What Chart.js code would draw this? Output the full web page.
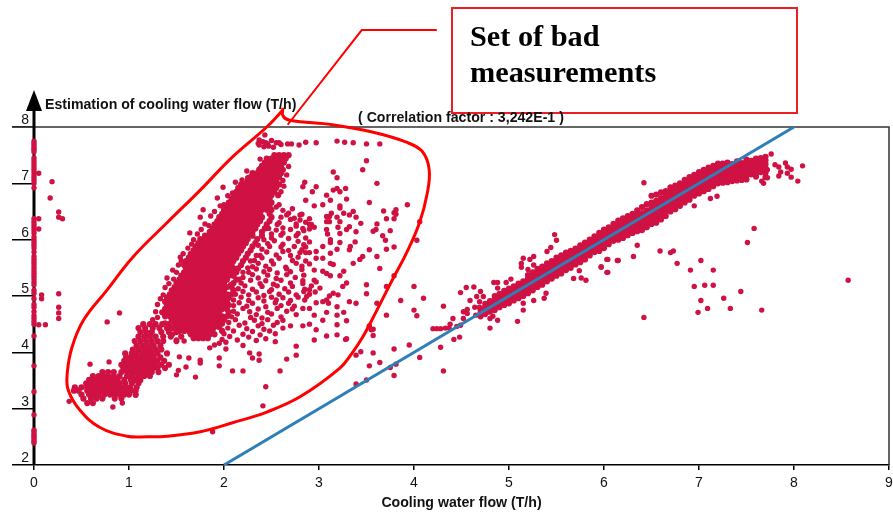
<!DOCTYPE html>
<html>
<head>
<meta charset="utf-8">
<style>body{margin:0;background:#fff}canvas{display:block}</style>
<script src="https://cdn.jsdelivr.net/npm/chart.js@4"></script>
</head>
<body>
<canvas id="myChart" width="893" height="518"></canvas>
<script>
const xTicks = [0, 1, 2, 3, 4, 5, 6, 7, 8, 9];
const yTicks = [2, 3, 4, 5, 6, 7, 8];

// bad measurements stuck at zero flow
const zeroFlowY = [7.75,7.71,7.67,7.63,7.6,7.56,7.45,7.4,7.35,7.3,7.25,7.2,7.15,7.1,7.05,7.0,6.92,6.37,6.32,6.27,6.22,6.17,6.12,6.05,6.0,5.95,5.9,5.85,5.78,5.7,5.65,5.6,5.55,5.5,5.45,5.4,5.35,5.3,5.25,5.2,5.1,5.05,4.95,4.85,4.8,4.72,4.65,4.6,4.55,4.5,4.29,3.76,3.3,2.89,2.62,2.59,2.55,2.52,2.49,2.46,2.42,2.39];

// dense part of the bad set, one row per y
const bodyY = [7.5,7.44,7.37,7.31,7.24,7.18,7.11,7.05,6.98,6.92,6.85,6.79,6.72,6.66,6.59,6.53,6.46,6.4,6.33,6.27,6.2,6.14,6.07,6.01,5.94,5.88,5.81,5.75,5.68,5.62,5.55,5.49,5.42,5.36,5.29,5.23,5.16,5.1,5.03,4.97,4.9,4.84,4.77,4.71,4.64,4.58,4.51,4.45,4.38,4.32,4.25];
const bodyX = [
  [2.53,2.58,2.63,2.68],
  [2.45,2.5,2.55,2.6,2.65],
  [2.43,2.48,2.53,2.58,2.63],
  [2.4,2.45,2.5,2.55,2.6],
  [2.37,2.42,2.47,2.52,2.57,2.62],
  [2.3,2.35,2.4,2.45,2.5,2.55,2.6],
  [2.28,2.33,2.38,2.43,2.48,2.53,2.58],
  [2.25,2.3,2.35,2.4,2.45,2.5,2.55],
  [2.18,2.23,2.28,2.33,2.38,2.43,2.48,2.53,2.58],
  [2.15,2.2,2.25,2.3,2.35,2.4,2.45,2.5,2.55],
  [2.13,2.18,2.23,2.28,2.33,2.38,2.43,2.48,2.53],
  [2.1,2.15,2.2,2.25,2.3,2.35,2.4,2.45,2.5,2.57],
  [2.08,2.13,2.18,2.23,2.28,2.33,2.38,2.43,2.48],
  [2.05,2.1,2.15,2.2,2.25,2.3,2.35,2.4,2.45,2.5],
  [2.03,2.08,2.13,2.18,2.23,2.28,2.33,2.38,2.43,2.48],
  [2.0,2.05,2.1,2.15,2.2,2.25,2.3,2.35,2.4,2.45,2.5],
  [1.98,2.03,2.08,2.13,2.18,2.23,2.28,2.33,2.38,2.48],
  [1.95,2.0,2.05,2.1,2.15,2.2,2.25,2.3,2.35,2.4,2.5],
  [1.93,1.98,2.03,2.08,2.13,2.18,2.23,2.28,2.33,2.38,2.48],
  [1.9,1.95,2.0,2.05,2.1,2.15,2.2,2.25,2.3,2.35,2.45],
  [1.88,1.93,1.98,2.03,2.08,2.13,2.18,2.23,2.28,2.33,2.43],
  [1.85,1.9,1.95,2.0,2.05,2.1,2.15,2.2,2.25,2.3,2.4],
  [1.8,1.85,1.9,1.95,2.0,2.05,2.1,2.15,2.2,2.25,2.3,2.4],
  [1.75,1.8,1.85,1.9,1.95,2.0,2.05,2.1,2.15,2.2,2.25,2.35],
  [1.73,1.78,1.83,1.88,1.93,1.98,2.03,2.08,2.13,2.18,2.23,2.33],
  [1.7,1.75,1.8,1.85,1.9,1.95,2.0,2.05,2.1,2.15,2.2,2.3],
  [1.68,1.73,1.78,1.83,1.88,1.93,1.98,2.03,2.08,2.13,2.18,2.28],
  [1.65,1.7,1.75,1.8,1.85,1.9,1.95,2.0,2.05,2.1,2.15,2.25],
  [1.63,1.68,1.73,1.78,1.83,1.88,1.93,1.98,2.03,2.08,2.13,2.23],
  [1.6,1.65,1.7,1.75,1.8,1.85,1.9,1.95,2.0,2.05,2.1,2.2],
  [1.58,1.63,1.68,1.73,1.78,1.83,1.88,1.93,1.98,2.03,2.08,2.18],
  [1.6,1.65,1.7,1.75,1.8,1.85,1.9,1.95,2.0,2.05,2.1,2.15],
  [1.58,1.63,1.68,1.73,1.78,1.83,1.88,1.93,1.98,2.03,2.08,2.13],
  [1.55,1.6,1.65,1.7,1.75,1.8,1.85,1.9,1.95,2.0,2.05,2.1],
  [1.53,1.58,1.63,1.68,1.73,1.78,1.83,1.88,1.93,1.98,2.03,2.13],
  [1.5,1.55,1.6,1.65,1.7,1.75,1.8,1.85,1.9,1.95,2.0,2.1],
  [1.48,1.53,1.58,1.63,1.68,1.73,1.78,1.83,1.88,1.93,1.98,2.03,2.08],
  [1.45,1.5,1.55,1.6,1.65,1.7,1.75,1.8,1.85,1.9,1.95,2.0,2.1],
  [1.43,1.48,1.53,1.58,1.63,1.68,1.73,1.78,1.83,1.88,1.93,1.98,2.03,2.08],
  [1.4,1.45,1.5,1.55,1.6,1.65,1.7,1.75,1.8,1.85,1.9,1.95,2.0,2.05],
  [1.38,1.43,1.48,1.53,1.58,1.63,1.68,1.73,1.78,1.83,1.88,1.93,1.98,2.03],
  [1.4,1.45,1.5,1.55,1.6,1.65,1.7,1.75,1.8,1.85,1.9,1.95,2.0,2.05],
  [1.38,1.43,1.48,1.53,1.58,1.63,1.68,1.73,1.78,1.83,1.88,1.93,1.98,2.03],
  [1.35,1.4,1.45,1.5,1.55,1.6,1.65,1.7,1.75,1.8,1.85,1.9,1.95,2.05],
  [1.38,1.43,1.48,1.53,1.58,1.63,1.68,1.73,1.78,1.83,1.88,1.93,1.98,2.03],
  [1.45,1.5,1.55,1.6,1.65,1.7,1.75,1.8,1.85,1.9,1.95,2.0],
  [1.48,1.53,1.58,1.63,1.68,1.73,1.78,1.83,1.88,1.93,1.98],
  [1.5,1.55,1.6,1.65,1.7,1.75,1.8,1.85,1.9,1.95],
  [1.53,1.58,1.63,1.68,1.73,1.78,1.83,1.88,1.98],
  [1.65,1.7,1.75,1.8,1.85,1.9],
  [1.68,1.73,1.78,1.83]
];

// lower tail of the bad set
const tailY = [4.5,4.43,4.36,4.28,4.2,4.12,4.05,3.98,3.91,3.85,3.78,3.72,3.65,3.58,3.51,3.45,3.38,3.32,3.25,3.18,3.1];
const tailX = [
  [1.15,1.22,1.28,1.35,1.42],
  [1.1,1.17,1.25,1.32,1.4,1.46],
  [1.12,1.18,1.24,1.34,1.42,1.5],
  [1.1,1.16,1.22,1.28,1.36,1.44,1.55],
  [1.06,1.12,1.18,1.24,1.3,1.36,1.5],
  [1.08,1.14,1.2,1.26,1.33],
  [1.04,1.1,1.16,1.22,1.28,1.34],
  [0.96,1.03,1.08,1.14,1.19,1.24,1.3,1.4],
  [0.97,1.01,1.06,1.11,1.16,1.21,1.26,1.33],
  [0.95,1.0,1.05,1.1,1.15,1.2,1.25,1.3,1.37],
  [0.92,0.98,1.03,1.08,1.13,1.18,1.23,1.28,1.34,1.42],
  [0.94,1.0,1.05,1.1,1.15,1.2,1.25,1.3,1.38],
  [0.72,0.78,0.84,0.92,0.98,1.03,1.08,1.13,1.18,1.24,1.31],
  [0.62,0.68,0.73,0.78,0.84,0.9,0.98,1.04,1.1,1.16,1.22],
  [0.58,0.63,0.68,0.73,0.78,0.83,0.88,0.95,1.02,1.07,1.12],
  [0.55,0.6,0.65,0.7,0.75,0.8,0.85,0.9,0.96,1.03,1.1],
  [0.43,0.5,0.56,0.61,0.66,0.71,0.76,0.81,0.86,0.91,0.96,1.01,1.08],
  [0.42,0.47,0.56,0.62,0.67,0.72,0.77,0.82,0.87,0.92,0.97,1.02,1.07],
  [0.5,0.58,0.63,0.68,0.74,0.8,0.85,0.9,0.95,1.0,1.07],
  [0.52,0.6,0.66,0.72,0.85,0.92],
  [0.56,0.62]
];

// looser points to the right of the dense part, rows of x with their y
const looseX = [
  [2.62,2.68,2.72,2.8],
  [2.6,2.66,2.74,2.82,2.9],
  [2.58,2.7,2.76,2.8,2.86,2.92],
  [2.56,2.62,2.76,2.83,2.9,2.95],
  [2.55,2.62,2.7,2.78,2.84,2.9],
  [2.5,2.6,2.68,2.76,2.86],
  [2.46,2.53,2.62,2.78,2.84,2.9],
  [2.4,2.48,2.6,2.68,2.74,2.82,2.86],
  [2.38,2.45,2.55,2.62,2.7,2.8],
  [2.32,2.4,2.5,2.58,2.72,2.78,2.86],
  [2.3,2.36,2.44,2.52,2.65,2.76,2.82,2.9],
  [2.26,2.34,2.42,2.48,2.56,2.66,2.7,2.82],
  [2.2,2.3,2.36,2.46,2.55,2.66,2.75,2.84],
  [2.18,2.28,2.38,2.44,2.52,2.6,2.7,2.83],
  [2.15,2.22,2.3,2.4,2.5,2.56,2.64,2.72,2.85,2.92],
  [2.12,2.2,2.26,2.34,2.42,2.48,2.58,2.68,2.76,2.84,2.9,2.96],
  [2.1,2.18,2.26,2.36,2.42,2.5,2.55,2.62,2.7,2.78,2.85],
  [2.1,2.16,2.24,2.3,2.44,2.54,2.6,2.68,2.74],
  [2.1,2.2,2.27,2.36,2.46,2.56,2.66,2.72],
  [2.08,2.14,2.28,2.34,2.4,2.5,2.6,2.76],
  [2.05,2.12,2.22,2.32,2.4,2.46,2.56,2.62],
  [2.04,2.16,2.24,2.36,2.42,2.52,2.62,2.7],
  [2.0,2.1,2.2,2.3,2.38,2.48],
  [1.98,2.06,2.14,2.26,2.34],
  [1.9,2.02,2.2]
];
const looseY = [
  [6.52,6.47,6.55,6.44],
  [6.4,6.44,6.38,6.45,6.37],
  [6.3,6.36,6.28,6.35,6.31,6.27],
  [6.27,6.21,6.24,6.2,6.27,6.22],
  [6.17,6.12,6.18,6.11,6.16,6.19],
  [6.03,6.08,6.02,6.07,6.03],
  [5.93,5.98,5.92,5.97,5.91,5.96],
  [5.83,5.88,5.87,5.81,5.88,5.82,5.87],
  [5.72,5.78,5.73,5.79,5.72,5.77],
  [5.63,5.68,5.62,5.67,5.63,5.69,5.62],
  [5.52,5.58,5.53,5.57,5.51,5.58,5.53,5.57],
  [5.42,5.48,5.43,5.47,5.41,5.48,5.43,5.47],
  [5.33,5.38,5.32,5.37,5.31,5.38,5.33,5.37],
  [5.23,5.28,5.22,5.27,5.21,5.28,5.23,5.27],
  [5.13,5.18,5.12,5.17,5.11,5.18,5.13,5.17,5.12,5.18],
  [5.03,5.08,5.02,5.07,5.01,5.08,5.03,5.07,5.02,5.08,5.03,5.07],
  [4.93,4.98,4.92,4.97,4.91,4.98,4.93,4.97,4.92,4.98,4.93],
  [4.83,4.88,4.82,4.87,4.81,4.88,4.83,4.87,4.82],
  [4.73,4.78,4.72,4.77,4.71,4.78,4.73,4.77],
  [4.63,4.68,4.62,4.67,4.61,4.68,4.63,4.67],
  [4.53,4.58,4.52,4.57,4.51,4.58,4.53,4.57],
  [4.43,4.48,4.42,4.47,4.41,4.48,4.43,4.47],
  [4.33,4.38,4.32,4.37,4.31,4.38],
  [4.23,4.28,4.22,4.27,4.21],
  [4.13,4.18,4.12]
];

// points along the rough edges of the dense part
const edgeX = [2.24,2.2,2.12,2.09,2.04,2.0,1.96,1.9,1.86,1.84,1.8,1.76,1.72,1.68,1.66,1.62,1.57,1.55,1.52,1.5,1.47,1.42,1.38,1.36,1.33,1.3,1.28,1.3,1.25,1.38,1.42,1.46,1.5,1.58,2.68,2.66,2.62,2.63,2.6,2.58,2.55,2.47,2.5,2.42,2.36,2.34,2.28,2.25,2.2,2.16,2.07];
const edgeY = [7.22,7.0,7.02,6.83,6.78,6.62,6.6,6.5,6.42,6.25,6.28,6.18,6.1,6.0,5.92,5.85,5.75,5.62,5.55,5.42,5.3,5.22,5.15,5.02,4.95,4.85,4.72,4.62,4.58,4.52,4.4,4.32,4.22,4.2,7.3,7.15,7.05,6.95,6.85,6.62,6.58,6.2,6.1,6.0,5.9,5.72,5.62,5.5,5.42,5.3,5.2];

// single scattered points of the bad set
const scatterX = [0.05,0.19,0.17,0.26,0.26,0.3,0.05,0.05,0.08,0.08,0.26,0.26,0.26,0.26,0.05,0.12,0.77,0.9,0.59,0.79,0.37,0.83,0.93,1.07,1.88,2.44,2.41,1.7,2.09,2.2,2.59,1.95,1.95,1.75,1.75,1.63,1.53,1.6,1.5,1.52,2.27,2.37,2.37,2.3,2.66,2.76,2.76,2.54,2.54,2.44,2.02,1.95,1.85,1.99,1.78,1.93,1.75,1.64,1.54,1.46,1.4,2.25,2.19,2.38,2.38,2.43,2.37,2.41,2.46,2.5,2.55,2.6,2.37,2.42,2.47,2.52,2.58,2.36,2.44,2.67,2.71,2.79,2.86,2.97,3.19,3.27,3.36,3.5,3.64,3.5,3.46,3.15,3.19,3.61,2.85,2.97,2.93,2.83,3.15,3.19,3.22,3.28,3.29,3.08,3.12,3.04,2.95,2.86,3.22,3.22,3.53,3.93,3.68,3.81,3.79,3.81,3.71,3.79,3.61,3.6,3.57,3.75,3.67,3.7,3.71,3.79,3.53,3.61,3.64,3.79,3.5,3.71,3.5,4.0,4.1,3.86,3.61,4.0,4.03,3.71,4.03,4.06,3.08,3.08,3.11,3.11,3.13,3.19,3.22,3.2,3.26,3.32,3.36,3.39,3.44,3.32,3.29,3.39,3.08,3.09,3.22,3.12,3.12,3.22,3.38,3.33,3.32,3.19,3.12,3.04,2.97,2.9,2.86,3.04,2.97,3.12,3.15,3.46,3.43,3.36,3.26,3.22,3.04,3.08,3.12,2.95,2.95,2.97,3.29,3.25,3.01,3.2,3.15,3.11,3.08,3.04,3.1,3.32,3.39,2.97,2.9,2.87,2.83,2.83,2.9,2.95,3.04,3.08,3.19,3.19,3.26,3.19,3.29,2.9,2.83,2.97,3.08,3.19,3.29,2.95,3.53,3.55];
const scatterY = [7.18,7.03,6.74,6.49,6.4,6.37,6.37,6.19,5.02,4.95,5.04,4.8,4.7,4.6,4.49,4.49,4.54,4.7,3.79,3.83,3.13,3.03,3.1,3.24,2.59,3.39,3.05,3.56,3.67,3.67,3.67,3.9,3.76,3.86,3.81,3.9,3.92,3.74,3.6,3.68,3.99,3.97,3.86,3.9,3.88,3.95,4.11,4.33,4.19,4.24,4.06,4.16,4.08,6.93,6.53,6.74,6.4,6.12,5.69,5.46,5.32,7.1,7.06,7.43,7.27,7.86,7.77,7.74,7.7,7.76,7.72,7.69,7.68,7.65,7.66,7.64,7.72,7.71,7.72,7.7,7.7,7.68,7.73,7.72,7.75,7.73,7.72,7.7,7.7,7.4,7.24,7.2,7.1,7.0,7.02,6.94,6.85,6.94,6.88,6.91,6.85,6.91,6.72,6.79,6.7,6.62,6.6,6.7,6.6,6.56,6.66,6.62,6.51,6.53,6.48,6.45,6.37,6.37,6.28,6.18,6.15,6.16,6.07,5.99,5.83,5.87,5.82,5.7,5.49,5.36,5.2,5.17,5.04,5.17,4.96,4.92,4.87,4.75,4.65,4.66,5.99,6.32,6.41,6.32,6.41,6.32,6.47,6.4,6.32,6.22,6.47,6.44,6.5,6.4,6.29,6.23,6.18,6.14,6.18,6.1,6.11,6.0,5.95,5.95,5.96,5.88,5.82,5.83,5.76,5.88,5.79,5.77,5.77,5.67,5.67,5.58,5.56,5.7,5.65,5.58,5.44,5.36,5.44,5.4,5.36,5.46,5.28,5.25,5.23,5.17,5.14,5.02,5.05,5.0,4.93,4.9,4.87,4.9,4.87,4.88,5.11,4.99,5.22,4.78,4.78,4.66,4.57,4.71,4.81,4.66,4.71,4.49,4.56,4.5,4.47,4.4,4.29,4.31,4.24,4.22,4.46,4.4];

// good measurements following the regression line, one column per x
const bandX = [4.7,4.75,4.8,4.85,4.9,4.95,5.0,5.05,5.1,5.15,5.2,5.25,5.3,5.35,5.4,5.45,5.5,5.55,5.6,5.65,5.7,5.75,5.8,5.85,5.9,5.95,6.0,6.05,6.1,6.15,6.2,6.25,6.3,6.35,6.4,6.45,6.5,6.55,6.6,6.65,6.7,6.75,6.8,6.85,6.9,6.95,7.0,7.05,7.1,7.15,7.2,7.25,7.3,7.35,7.4,7.45,7.5,7.55,7.6,7.65,7.7];
const bandY = [
  [4.64,4.7,4.77],
  [4.68,4.74,4.8,4.86],
  [4.72,4.78,4.84,4.91],
  [4.75,4.82,4.88,4.94,5.0],
  [4.8,4.86,4.92,4.98,5.04],
  [4.84,4.9,4.96,5.03,5.09],
  [4.87,4.93,5.0,5.06,5.13],
  [4.92,4.98,5.04,5.1,5.17],
  [4.96,5.02,5.08,5.15,5.22],
  [5.0,5.06,5.13,5.19,5.26],
  [5.05,5.11,5.18,5.24,5.31,5.37],
  [5.1,5.16,5.23,5.29,5.36,5.42],
  [5.16,5.22,5.28,5.35,5.41,5.48],
  [5.2,5.26,5.33,5.39,5.46,5.52],
  [5.26,5.32,5.39,5.45,5.51,5.58],
  [5.31,5.37,5.43,5.5,5.56,5.62],
  [5.36,5.42,5.48,5.55,5.61,5.68],
  [5.4,5.46,5.53,5.59,5.66,5.72],
  [5.46,5.52,5.58,5.64,5.7,5.77],
  [5.5,5.56,5.62,5.69,5.75,5.8],
  [5.56,5.62,5.68,5.74,5.8,5.84],
  [5.6,5.66,5.72,5.78,5.84,5.9],
  [5.65,5.72,5.78,5.84,5.9,5.95],
  [5.72,5.78,5.84,5.9,5.96,6.0],
  [5.78,5.84,5.9,5.96,6.02,6.06],
  [5.8,5.87,5.93,5.99,6.05,6.12],
  [5.85,5.92,5.98,6.04,6.1,6.18],
  [5.92,5.98,6.04,6.1,6.16,6.22],
  [5.98,6.04,6.1,6.16,6.22,6.28],
  [6.0,6.07,6.13,6.19,6.25,6.34],
  [6.03,6.1,6.17,6.23,6.3,6.38],
  [6.08,6.15,6.21,6.28,6.34,6.42],
  [6.12,6.19,6.26,6.33,6.39,6.46],
  [6.15,6.22,6.29,6.36,6.43,6.52],
  [6.17,6.25,6.33,6.4,6.47,6.58],
  [6.22,6.29,6.37,6.44,6.52,6.63],
  [6.28,6.35,6.42,6.49,6.57,6.66,6.78],
  [6.3,6.38,6.45,6.53,6.6,6.69,6.8],
  [6.36,6.44,6.52,6.59,6.66,6.74,6.84],
  [6.42,6.5,6.57,6.64,6.71,6.79,6.86],
  [6.5,6.57,6.64,6.71,6.78,6.86,6.93],
  [6.54,6.61,6.68,6.75,6.82,6.89,6.96],
  [6.6,6.67,6.74,6.81,6.88,6.94,7.0],
  [6.66,6.73,6.8,6.87,6.93,7.0,7.06],
  [6.71,6.78,6.85,6.92,6.98,7.05,7.11],
  [6.78,6.84,6.9,6.96,7.02,7.08,7.15],
  [6.82,6.89,6.95,7.01,7.07,7.13,7.2],
  [6.86,6.93,7.0,7.06,7.12,7.18,7.24],
  [6.9,6.97,7.04,7.1,7.16,7.22,7.28],
  [6.95,7.01,7.07,7.13,7.19,7.25,7.31],
  [7.0,7.06,7.12,7.18,7.24,7.3,7.35],
  [7.01,7.07,7.13,7.19,7.25,7.31,7.35],
  [7.02,7.08,7.14,7.2,7.26,7.32,7.37],
  [7.04,7.1,7.16,7.22,7.28,7.34],
  [7.05,7.11,7.17,7.23,7.29,7.35,7.39],
  [7.06,7.12,7.18,7.24,7.3,7.36],
  [7.07,7.14,7.2,7.26,7.32,7.38,7.42],
  [7.16,7.22,7.28,7.34,7.4],
  [7.12,7.19,7.25,7.31,7.37,7.44],
  [7.2,7.26,7.32,7.38,7.45],
  [7.11,7.19,7.27,7.34,7.41,7.47]
];

// points around the band and the low flow end of it
const offBandX = [4.2,4.24,4.28,4.33,4.37,4.38,4.41,4.31,4.45,4.49,4.52,4.56,4.52,4.56,4.59,4.49,4.55,4.63,4.7,4.66,4.73,4.64,4.69,4.69,4.65,4.8,4.8,4.88,4.83,5.09,5.15,5.15,5.26,5.37,5.39,5.48,5.5,5.44,5.4,5.15,5.22,5.26,5.13,5.13,5.26,5.2,4.84,4.88,5.02,4.97,4.88,6.04,5.97,6.04,6.14,5.81,5.76,5.68,5.74,3.53,3.57,3.57,3.28,3.79,3.95,3.44,3.39,3.57,3.64,3.53,3.75,3.81,4.06,4.28,4.42,4.48,3.79,4.31,3.39,3.5,7.76,7.8,7.84,7.86,7.84,7.91,7.93,7.97,7.93,7.97,8.04,8.09,7.72,7.72,7.66,7.68,7.58,7.51,6.59,6.73,6.7,6.77,7.02,6.91,7.15,6.95,7.06,7.15,7.44,7.26,7.02,7.33,7.09,6.99,7.66,8.57,6.42,6.35,6.31,6.15,6.03,5.97,6.03,6.42,7.12,7.19,6.95];
const offBandY = [4.42,4.42,4.42,4.43,4.43,4.5,4.6,4.82,4.46,4.48,4.6,4.69,4.72,4.76,4.92,5.06,5.15,5.16,5.08,4.99,4.99,4.8,4.8,4.9,4.66,4.43,4.6,4.57,4.64,4.55,4.75,4.87,4.92,4.96,5.05,6.09,5.99,5.86,5.79,5.67,5.65,5.7,5.58,5.51,5.55,5.47,5.24,5.24,5.3,5.24,5.14,5.65,5.51,5.42,5.63,5.28,5.32,5.31,5.45,4.47,4.41,4.3,4.23,4.06,4.13,4.01,3.95,3.99,3.82,3.76,3.73,3.79,3.91,4.09,4.23,4.27,3.59,3.67,3.44,3.51,7.52,7.33,7.29,7.2,7.13,7.36,7.29,7.25,7.18,7.11,7.04,7.31,7.24,7.1,7.04,7.0,6.2,5.95,5.8,5.8,5.77,5.58,5.63,5.46,5.46,5.17,5.19,5.19,5.08,4.96,4.92,4.78,4.78,4.71,4.75,5.28,4.62,5.9,5.7,5.63,5.65,5.52,5.42,7.01,6.73,6.77,6.6];

// regression line
const fitX = [2, 8];
const fitY = [2, 8];

// hand drawn outline around the bad set
const outlineX = [2.62,2.62,2.69,3.14,3.56,3.92,4.09,4.16,4.14,4.06,3.92,3.77,3.61,3.46,3.35,3.22,2.8,2.45,2.09,1.75,1.4,1.19,0.98,0.69,0.48,0.36,0.35,0.4,0.52,0.77,1.04,1.4,1.75,2.09,2.45,2.62];
const outlineY = [8.34,8.2,8.12,8.04,7.91,7.73,7.56,7.24,6.83,6.31,5.76,5.28,4.75,4.27,3.99,3.72,3.21,2.94,2.75,2.59,2.51,2.5,2.51,2.67,2.98,3.33,3.63,4.09,4.57,5.11,5.69,6.3,6.88,7.47,8.0,8.3];

// leader from the outline to the text box
const leaderX = [2.67, 3.45, 4.24];
const leaderY = [8.04, 9.72, 9.72];

function rowsByY(ys, xs) {
  var out = [];
  ys.forEach(function (y, i) {
    xs[i].forEach(function (x) { out.push({ x: x, y: y }); });
  });
  return out;
}

function rowsByX(xs, ys) {
  var out = [];
  xs.forEach(function (x, i) {
    ys[i].forEach(function (y) { out.push({ x: x, y: y }); });
  });
  return out;
}

function zip(xs, ys) {
  return xs.map(function (x, i) { return { x: x, y: ys[i] }; });
}

function zipRows(xs, ys) {
  var out = [];
  xs.forEach(function (row, i) { out = out.concat(zip(row, ys[i])); });
  return out;
}

const densePoints = []
  .concat(rowsByY(bodyY, bodyX))
  .concat(rowsByY(tailY, tailX))
  .concat(rowsByX(bandX, bandY));

const loosePoints = []
  .concat(zeroFlowY.map(function (y) { return { x: 0, y: y }; }))
  .concat(zipRows(looseX, looseY))
  .concat(zip(edgeX, edgeY))
  .concat(zip(scatterX, scatterY))
  .concat(zip(offBandX, offBandY));

const frameAndLabels = {
  id: "frameAndLabels",
  beforeDatasetsDraw: function (chart) {
    var ctx = chart.ctx;
    var a = chart.chartArea;
    ctx.save();
    // top and right frame
    ctx.strokeStyle = "#333";
    ctx.lineWidth = 1.5;
    ctx.beginPath();
    ctx.moveTo(12, a.top);
    ctx.lineTo(a.right, a.top);
    ctx.lineTo(a.right, a.bottom);
    ctx.stroke();
    // y axis with arrow head
    ctx.strokeStyle = "#000";
    ctx.lineWidth = 3;
    ctx.beginPath();
    ctx.moveTo(a.left, a.bottom);
    ctx.lineTo(a.left, 108);
    ctx.stroke();
    ctx.fillStyle = "#000";
    ctx.beginPath();
    ctx.moveTo(a.left, 90);
    ctx.lineTo(a.left + 8, 111);
    ctx.lineTo(a.left - 8, 111);
    ctx.closePath();
    ctx.fill();
    ctx.font = "bold 14.15px 'Liberation Sans'";
    ctx.textBaseline = "alphabetic";
    ctx.fillStyle = "#111";
    ctx.fillText("Estimation of cooling water flow (T/h)", 45, 109);
    ctx.restore();
  },
  afterDraw: function (chart) {
    var ctx = chart.ctx;
    ctx.save();
    ctx.strokeStyle = "#ee1c25";
    ctx.lineWidth = 2;
    ctx.strokeRect(452, 8, 345, 105);
    ctx.fillStyle = "#111";
    ctx.font = "bold 14.15px 'Liberation Sans'";
    ctx.fillText("( Correlation factor : 3,242E-1 )", 358, 122);
    ctx.fillStyle = "#000";
    ctx.font = "bold 30.3px 'Liberation Serif'";
    ctx.fillText("Set of bad", 470, 46);
    ctx.fillText("measurements", 470, 82);
    ctx.restore();
  },
};

var ctx = document.getElementById("myChart").getContext("2d");
var myChart = new Chart(ctx, {
  type: "scatter",
  data: {
    datasets: [
      {
        label: "Measurements, dense",
        data: densePoints,
        backgroundColor: "#cf1243",
        borderWidth: 0,
        pointRadius: 3.1,
        clip: false,
        order: 4,
      },
      {
        label: "Measurements, scattered",
        data: loosePoints,
        backgroundColor: "#cf1243",
        borderWidth: 0,
        pointRadius: 2.7,
        clip: false,
        order: 3,
      },
      {
        label: "Regression",
        data: zip(fitX, fitY),
        showLine: true,
        borderColor: "#2e7fb8",
        borderWidth: 3,
        pointRadius: 0,
        order: 2,
      },
      {
        label: "Outline",
        data: zip(outlineX, outlineY),
        showLine: true,
        borderColor: "#ff0000",
        borderWidth: 3,
        pointRadius: 0,
        tension: 0.4,
        clip: false,
        order: 1,
      },
      {
        label: "Leader",
        data: zip(leaderX, leaderY),
        showLine: true,
        borderColor: "#ff0000",
        borderWidth: 2,
        pointRadius: 0,
        clip: false,
        order: 0,
      },
    ],
  },
  options: {
    responsive: false,
    animation: false,
    layout: { padding: { top: 127, right: 3, left: 0, bottom: 0 } },
    plugins: {
      legend: { display: false },
      tooltip: { enabled: false },
    },
    scales: {
      x: {
        min: 0,
        max: 9,
        afterFit: function (scale) {
          scale.height = 53;
          scale.paddingRight = 0;
          scale.paddingLeft = 0;
        },
        afterBuildTicks: function (scale) {
          scale.ticks = xTicks.map(function (v) { return { value: v }; });
        },
        grid: { drawOnChartArea: false, tickLength: 5, color: "#000", lineWidth: 1.5 },
        border: { color: "#000", width: 1.5 },
        ticks: { color: "#111", font: { family: "'Liberation Sans'", size: 14 }, padding: 5, maxRotation: 0 },
        title: {
          display: true,
          text: "Cooling water flow (T/h)",
          color: "#111",
          font: { family: "'Liberation Sans'", size: 14.15, weight: "bold" },
          padding: { top: 2, bottom: 6 },
        },
      },
      y: {
        min: 2,
        max: 8,
        afterFit: function (scale) { scale.width = 34; },
        afterBuildTicks: function (scale) {
          scale.ticks = yTicks.map(function (v) { return { value: v }; });
        },
        grid: { drawOnChartArea: false, tickLength: 22, color: "#000", lineWidth: 1.5 },
        border: { display: false },
        ticks: { color: "#111", font: { family: "'Liberation Sans'", size: 14 }, padding: -17, labelOffset: -7 },
      },
    },
  },
  plugins: [frameAndLabels],
});
</script>
</body>
</html>
